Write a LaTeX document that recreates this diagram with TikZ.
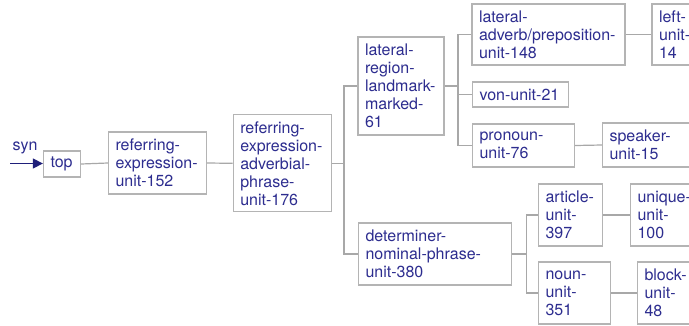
\documentclass[tikz,border=0pt]{standalone}
\usepackage{fontspec}
\setmainfont{TeX Gyre Heros}
\usetikzlibrary{arrows.meta}
\definecolor{navy}{HTML}{2D2D8F}
\definecolor{arrownavy}{HTML}{1F1F7A}
\definecolor{boxgray}{HTML}{B4B4B4}
\definecolor{linegray}{HTML}{A8A8A8}
\newcommand{\myboxfont}{\fontsize{16}{18}\selectfont\hyphenpenalty=10000 \exhyphenpenalty=10000 }
\tikzset{
  ubox/.style={draw=boxgray, line width=1.3pt, text=navy, align=left,
    inner xsep=7pt, inner ysep=0pt, anchor=center, font=\myboxfont},
  conn/.style={draw=linegray, line width=1.2pt},
  lbl/.style={text=navy, font=\fontsize{16}{18}\selectfont, inner sep=0pt}
}
\begin{document}
\begin{tikzpicture}[x=1pt,y=-1pt]
\useasboundingbox (0,0) rectangle (689,325);
\clip (0,0) rectangle (689,325);
\fill[white] (0,0) rectangle (689,325);

% nodes
\node[ubox, text width=23pt, minimum height=26pt] (top) at (62,164) {top};
\node[ubox, text width=84pt, minimum height=62pt] (r152) at (157.5,163) {referring-\\expression-\\unit-152};
\node[ubox, text width=84pt, minimum height=97pt] (r176) at (282.3,163.3) {referring-\\expression-\\adverbial-\\phrase-\\unit-176};
\node[ubox, text width=72pt, minimum height=98pt] (lat61) at (401,86) {lateral-\\region-\\landmark-\\marked-\\61};
\node[ubox, text width=139pt, minimum height=62pt] (det380) at (435,254) {determiner-\\nominal-phrase-\\unit-380};
\node[ubox, text width=139pt, minimum height=61pt] (lat148) at (548.5,34.5) {lateral-\\adverb/preposition-\\unit-148};
\node[ubox, text width=36pt, minimum height=61pt] (left14) at (677,34.5) {left-\\unit-\\14};
\node[ubox, text width=82pt, minimum height=25pt] (von21) at (520.5,94.5) {von-unit-21};
\node[ubox, text width=88pt, minimum height=43pt] (pro76) at (523.5,145.5) {pronoun-\\unit-76};
\node[ubox, text width=80pt, minimum height=44pt] (spk15) at (649.5,145) {speaker-\\unit-15};
\node[ubox, text width=50pt, minimum height=62pt] (art397) at (570.5,215) {article-\\unit-\\397};
\node[ubox, text width=55pt, minimum height=62pt] (uniq100) at (665,215) {unique-\\unit-\\100};
\node[ubox, text width=58pt, minimum height=62pt] (noun351) at (574.5,293) {noun-\\unit-\\351};
\node[ubox, text width=45pt, minimum height=62pt] (block48) at (667,293) {block-\\unit-\\48};

% syn arrow
\node[lbl] (syn) at (25,148) {syn};
\coordinate (synstart) at (10,163.5);
\draw[draw=arrownavy, line width=1.3pt, -{Triangle[length=10pt,width=10pt]}] (synstart) -- (top.west |- synstart);

% connectors
\draw[conn] (top.east) -- (r152.west);
\draw[conn] (r152.east) -- (r176.west);

\coordinate (b1) at (344,163.3);
\draw[conn] (r176.east) -- (b1);
\draw[conn] (b1) |- (lat61.west);
\draw[conn] (b1) |- (det380.west);

\coordinate (b2) at (458,86);
\draw[conn] (lat61.east) -- (b2);
\draw[conn] (b2) |- (lat148.west);
\draw[conn] (b2) |- (von21.west);
\draw[conn] (b2) |- (pro76.west);

\draw[conn] (lat148.east) -- (left14.west);
\draw[conn] (pro76.east) -- (spk15.west);

\coordinate (b3) at (526.7,254);
\draw[conn] (det380.east) -- (b3);
\draw[conn] (b3) |- (art397.west);
\draw[conn] (b3) |- (noun351.west);

\draw[conn] (art397.east) -- (uniq100.west);
\draw[conn] (noun351.east) -- (block48.west);
\end{tikzpicture}
\end{document}
